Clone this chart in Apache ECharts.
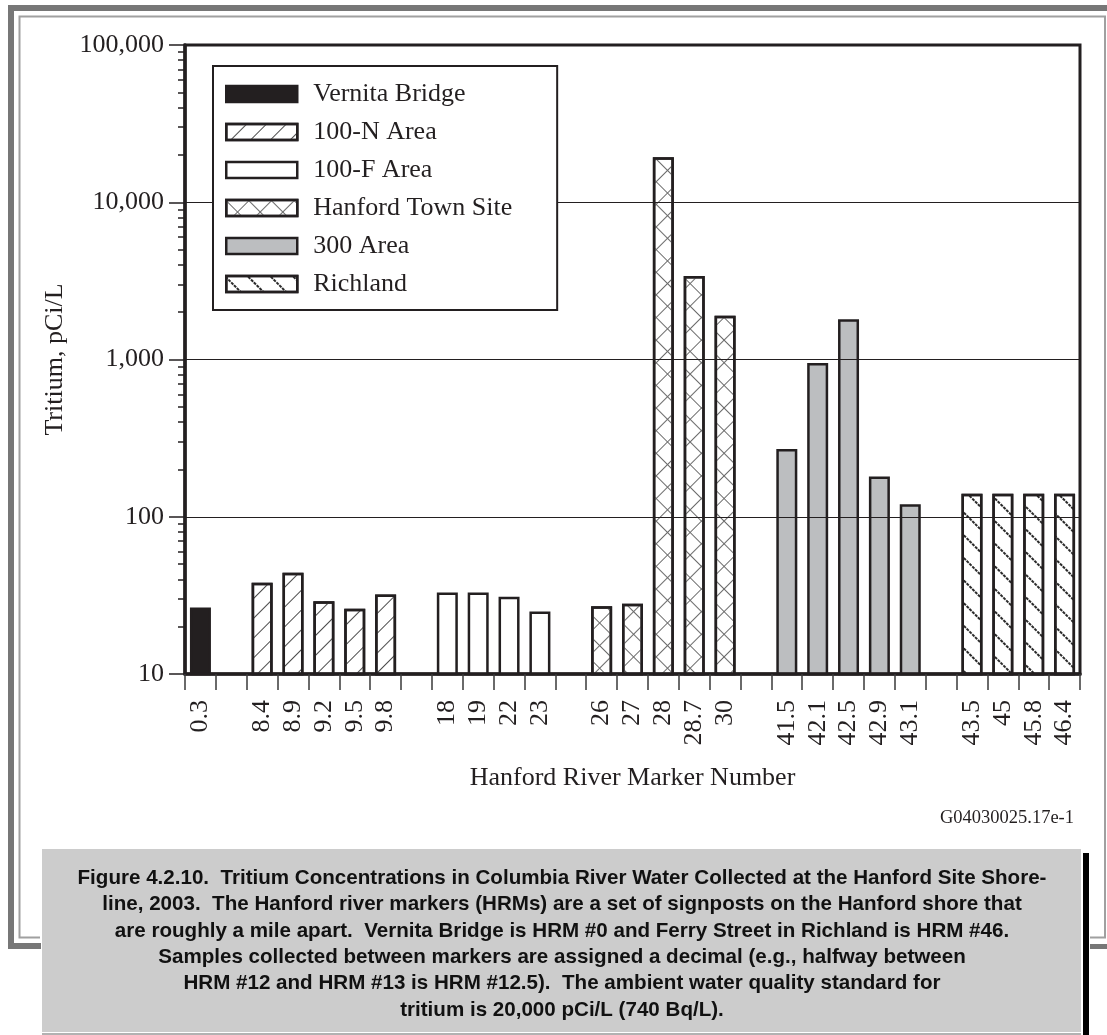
<!DOCTYPE html>
<html>
<head>
<meta charset="utf-8">
<script src="https://cdn.jsdelivr.net/npm/echarts@6/dist/echarts.min.js"></script>
<style>
html,body{margin:0;padding:0;background:#fff;}
#chart{width:1107px;height:1035px;}
</style>
</head>
<body>
<div id="chart"></div>
<script>
// ---------------- data ----------------
const seriesNames = ['Vernita Bridge', '100-N Area', '100-F Area', 'Hanford Town Site', '300 Area', 'Richland'];
const catVernita = ['0.3'];
const valVernita = [26.5];
const cat100N = ['8.4', '8.9', '9.2', '9.5', '9.8'];
const val100N = [38, 44, 29, 26, 32];
const cat100F = ['18', '19', '22', '23'];
const val100F = [33, 33, 31, 25];
const catTown = ['26', '27', '28', '28.7', '30'];
const valTown = [27, 28, 19300, 3400, 1900];
const cat300 = ['41.5', '42.1', '42.5', '42.9', '43.1'];
const val300 = [270, 950, 1800, 180, 120];
const catRich = ['43.5', '45', '45.8', '46.4'];
const valRich = [140, 140, 140, 140];
const yMajorTicks = [10, 100, 1000, 10000, 100000];
const yMinorTicks = [20, 30, 40, 50, 60, 70, 80, 90,
  200, 300, 400, 500, 600, 700, 800, 900,
  2000, 3000, 4000, 5000, 6000, 7000, 8000, 9000,
  20000, 30000, 40000, 50000, 60000, 70000, 80000, 90000];
const xAxisName = 'Hanford River Marker Number';
const yAxisName = 'Tritium, pCi/L';
const figureId = 'G04030025.17e-1';
const captionLines = [
  'Figure 4.2.10.  Tritium Concentrations in Columbia River Water Collected at the Hanford Site Shore-',
  'line, 2003.  The Hanford river markers (HRMs) are a set of signposts on the Hanford shore that',
  'are roughly a mile apart.  Vernita Bridge is HRM #0 and Ferry Street in Richland is HRM #46.',
  'Samples collected between markers are assigned a decimal (e.g., halfway between',
  'HRM #12 and HRM #13 is HRM #12.5).  The ambient water quality standard for',
  'tritium is 20,000 pCi/L (740 Bq/L).'
];

// ---------------- build ----------------
const groupCats = [catVernita, cat100N, cat100F, catTown, cat300, catRich];
const groupVals = [valVernita, val100N, val100F, valTown, val300, valRich];
const categories = [];
groupCats.forEach((cats, g) => {
  if (g > 0) categories.push('gap' + g);
  cats.forEach(c => categories.push(c));
});
const seriesData = groupCats.map((cats, g) =>
  categories.map(c => { const i = cats.indexOf(c); return i >= 0 ? groupVals[g][i] : '-'; })
);

const INK = '#231f20';
const SERIF = "'Liberation Serif', 'Times New Roman', serif";
const hatch = '#4a4a4a';
const styles = [
  { color: INK },
  { color: '#fff', decal: { symbol: 'rect', symbolSize: 1, color: hatch, dashArrayX: [[10, 0]], dashArrayY: [1, 13], rotation: -Math.PI / 4 } },
  { color: '#fff' },
  { color: '#fff', decal: { symbol: 'rect', symbolSize: 1, color: '#6a6a6a', dashArrayX: [[16, 0], [1, 15]], dashArrayY: [1, 0, 15, 0], rotation: Math.PI / 4 } },
  { color: '#bcbec0' },
  { color: '#fff', decal: { symbol: 'rect', symbolSize: 1, color: '#2a2a2a', dashArrayX: [[3, 1]], dashArrayY: [2, 14], rotation: Math.PI / 4 } }
];

const series = seriesNames.map((name, g) => ({
  name: name,
  type: 'bar',
  data: seriesData[g],
  barWidth: 21,
  barGap: '-100%',
  itemStyle: Object.assign({ borderColor: INK, borderWidth: 2.5 }, styles[g]),
  emphasis: { disabled: true },
  z: 3
}));

const graphics = [];
// outer frame (decorative)
const band = '#777777', thin = '#a0a0a0';
graphics.push(
  { type: 'rect', shape: { x: 8, y: 5, width: 1099, height: 6 }, style: { fill: band }, silent: true },
  { type: 'rect', shape: { x: 8, y: 5, width: 6, height: 944 }, style: { fill: band }, silent: true },
  { type: 'rect', shape: { x: 8, y: 943, width: 33, height: 6 }, style: { fill: band }, silent: true },
  { type: 'rect', shape: { x: 1090, y: 944, width: 17, height: 5 }, style: { fill: band }, silent: true },
  { type: 'polyline', shape: { points: [[40, 937.5], [19.5, 937.5], [19.5, 16.5], [1105, 16.5], [1105, 937.5], [1090, 937.5]] }, style: { stroke: thin, lineWidth: 2, fill: null }, silent: true },
  // caption box
  { type: 'rect', shape: { x: 42, y: 849, width: 1039, height: 183 }, style: { fill: '#cccccc' }, silent: true },
  { type: 'line', shape: { x1: 42, y1: 1034, x2: 1081, y2: 1034 }, style: { stroke: '#999', lineWidth: 1.5 }, silent: true },
  { type: 'rect', shape: { x: 1083, y: 853, width: 6, height: 182 }, style: { fill: '#000' }, silent: true },
  { type: 'text', x: 1074, y: 818, style: { text: figureId, font: "18.5px " + SERIF, fill: INK, textAlign: 'right', textVerticalAlign: 'middle' }, silent: true }
);
captionLines.forEach((line, i) => {
  graphics.push({
    type: 'text', x: 562, y: 878 + 26.4 * i, scaleX: 0.98,
    style: { text: line, font: "bold 21px 'Liberation Sans', Arial, sans-serif", fill: '#111', textAlign: 'center', textVerticalAlign: 'middle' },
    silent: true
  });
});

const chart = echarts.init(document.getElementById('chart'), null, { renderer: 'canvas' });
chart.setOption({
  backgroundColor: '#fff',
  animation: false,
  textStyle: { fontFamily: SERIF, color: INK },
  grid: { left: 185, right: 27, top: 45, bottom: 361, show: true, borderColor: INK, borderWidth: 3, backgroundColor: 'transparent' },
  legend: {
    data: seriesNames,
    orient: 'vertical',
    left: 213, top: 66,
    icon: 'rect',
    itemWidth: 71, itemHeight: 16,
    itemGap: 12,
    padding: [15, 45, 13, 12],
    backgroundColor: '#fff',
    borderColor: INK, borderWidth: 2,
    itemStyle: { borderColor: INK, borderWidth: 2.5 },
    textStyle: { fontFamily: SERIF, fontSize: 26, color: INK, padding: [0, 0, 0, 11] },
    selectedMode: false,
    z: 10
  },
  xAxis: {
    type: 'category',
    data: categories,
    boundaryGap: true,
    name: xAxisName,
    nameLocation: 'middle',
    nameGap: 91,
    nameTextStyle: { fontFamily: SERIF, fontSize: 26, color: INK },
    axisLine: { lineStyle: { color: INK, width: 3.5 } },
    axisTick: { show: true, interval: 0, length: 16, lineStyle: { color: '#3a3a3a', width: 1.5 } },
    axisLabel: {
      interval: 0, rotate: 90, margin: 26,
      fontFamily: SERIF, fontSize: 26, color: INK,
      formatter: v => (v.indexOf('gap') === 0 ? '' : v)
    },
    splitLine: { show: false },
    z: 5
  },
  yAxis: [{
    type: 'log',
    logBase: 10,
    min: yMajorTicks[0],
    max: yMajorTicks[yMajorTicks.length - 1],
    name: yAxisName,
    nameLocation: 'middle',
    nameGap: 115,
    nameTextStyle: { fontFamily: SERIF, fontSize: 26, color: INK },
    axisLine: { show: true, lineStyle: { color: INK, width: 3.5 } },
    axisTick: { show: true, length: 16, lineStyle: { color: INK, width: 1.5 } },
    axisLabel: {
      margin: 21, fontFamily: SERIF, fontSize: 26, color: INK,
      formatter: v => Number(v).toLocaleString('en-US')
    },
    splitLine: { show: true, lineStyle: { color: INK, width: 1.2 } },
    z: 5
  }, {
    type: 'log',
    logBase: 10,
    min: yMajorTicks[0],
    max: yMajorTicks[yMajorTicks.length - 1],
    position: 'left',
    axisLine: { show: false },
    axisLabel: { show: false },
    splitLine: { show: false },
    axisTick: { show: true, length: 7, customValues: yMinorTicks, lineStyle: { color: INK, width: 1.5 } }
  }],
  series: series,
  graphic: graphics
});
</script>
</body>
</html>
